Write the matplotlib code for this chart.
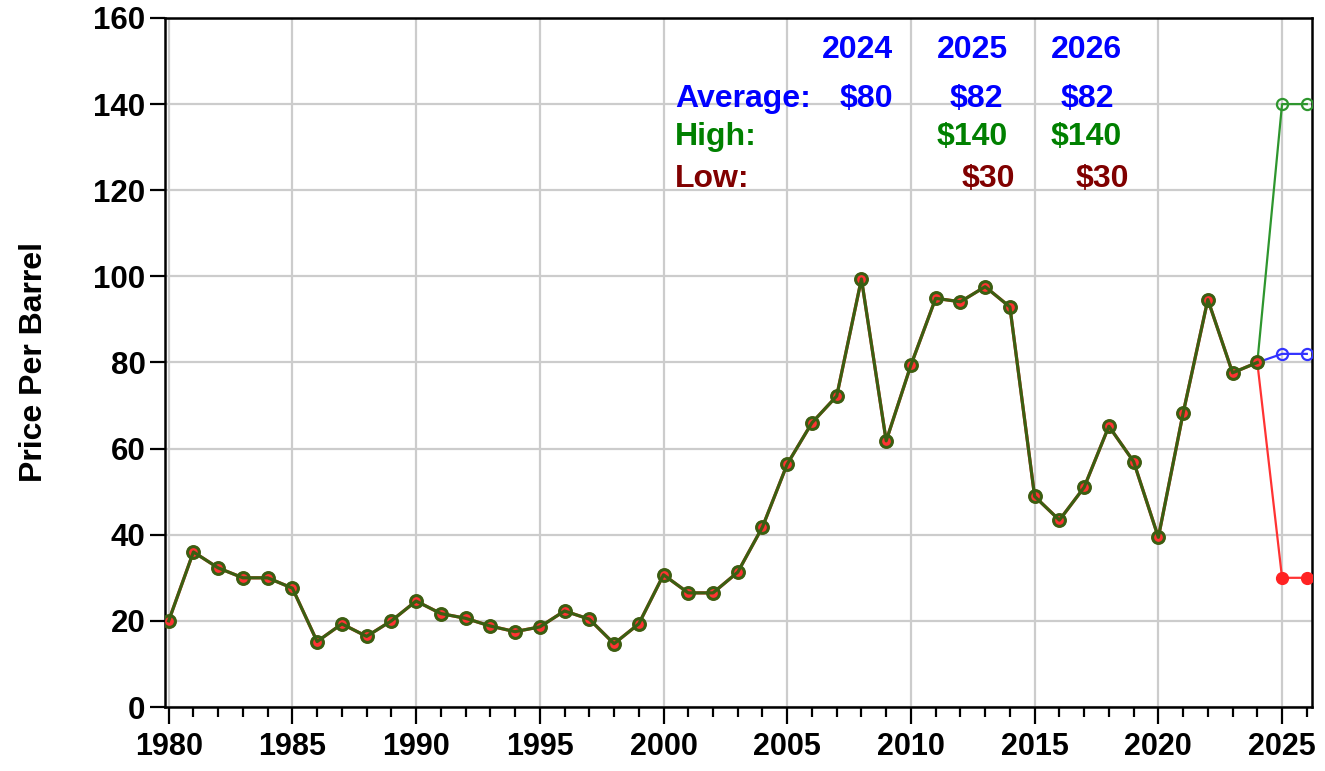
import numpy as np
import matplotlib
matplotlib.use('Agg')
import matplotlib.pyplot as plt
from matplotlib.ticker import MultipleLocator

plt.rcParams['font.family'] = ['Liberation Sans', 'DejaVu Sans']
plt.rcParams['font.weight'] = 'bold'

# annual oil price history, 1980-2024
years = np.arange(1980, 2025)
price = [20.0, 36.0, 32.3, 30.0, 30.0, 27.6, 15.2, 19.3, 16.4, 20.0,
         24.6, 21.7, 20.6, 18.8, 17.5, 18.6, 22.3, 20.4, 14.7, 19.3,
         30.7, 26.5, 26.5, 31.3, 41.8, 56.4, 66.0, 72.2, 99.4, 61.8,
         79.4, 94.9, 94.1, 97.6, 92.9, 48.9, 43.4, 51.0, 65.2, 57.0,
         39.4, 68.2, 94.6, 77.6, 80.0]

# forecast scenarios
fc_years = [2024, 2025, 2026]
fc_avg = [80.0, 82.0, 82.0]
fc_high = [80.0, 140.0, 140.0]
fc_low = [80.0, 30.0, 30.0]

fig = plt.figure(figsize=(13.25, 7.71), dpi=100)
ax = fig.add_axes([0.1245, 0.083, 0.8655, 0.8937])

ax.plot(fc_years, fc_low, color='#ff3333', lw=1.6, marker='o', ms=8.5,
        mfc='#ff2222', mec='#ff2222', zorder=3)
ax.plot(fc_years, fc_avg, color='#3333ff', lw=1.6, marker='o', ms=8,
        mfc='none', mec='#3333ff', mew=1.6, zorder=3)
ax.plot(fc_years, fc_high, color='#2e962e', lw=1.6, marker='o', ms=8,
        mfc='none', mec='#2e962e', mew=1.6, zorder=3)

ax.plot(years, price, color='#ff3333', lw=2.3, marker='o', ms=9,
        mfc='#ff3333', mec='#ff3333', zorder=4)
ax.plot(years, price, color='#3a5f12', lw=2.3, marker='o', ms=8.5,
        mfc='none', mec='#3a5f12', mew=2.2, zorder=5)

ax.set_xlim(1979.85, 2026.2)
ax.set_ylim(0, 160)
ax.xaxis.set_major_locator(MultipleLocator(5))
ax.xaxis.set_minor_locator(MultipleLocator(1))
ax.yaxis.set_major_locator(MultipleLocator(20))
ax.grid(True, which='major', color='#cccccc', lw=1.6)
ax.set_axisbelow(True)

for s in ax.spines.values():
    s.set_linewidth(1.8)
ax.tick_params(axis='x', which='major', direction='out', length=12, width=1.6,
               labelsize=22, pad=6)
ax.tick_params(axis='x', which='minor', direction='out', length=7, width=1.6)
ax.tick_params(axis='y', which='major', direction='out', length=11, width=1.6,
               labelsize=22.5, pad=3)
ax.set_ylabel('Price Per Barrel', fontsize=23, fontweight='bold', labelpad=32)

# forecast table
def px(x, y):
    return x / 1325.0, 1 - y / 771.0

fs = 23
for lab, x in zip(['2024', '2025', '2026'], [893, 1008, 1122]):
    fig.text(*px(x, 50), lab, color='#0000ff', fontsize=fs, ha='right', va='center')
fig.text(*px(675, 99), 'Average:', color='#0000ff', fontsize=fs, ha='left', va='center')
fig.text(*px(675, 137), 'High:', color='#008000', fontsize=fs, ha='left', va='center')
fig.text(*px(675, 179), 'Low:', color='#800000', fontsize=fs, ha='left', va='center')
for lab, x in zip(['$80', '$82', '$82'], [893, 1003, 1114]):
    fig.text(*px(x, 99), lab, color='#0000ff', fontsize=fs, ha='right', va='center')
for lab, x in zip(['$140', '$140'], [1008, 1122]):
    fig.text(*px(x, 137), lab, color='#008000', fontsize=fs, ha='right', va='center')
for lab, x in zip(['$30', '$30'], [1015, 1129]):
    fig.text(*px(x, 179), lab, color='#800000', fontsize=fs, ha='right', va='center')

fig.savefig('out.png', dpi=100)
